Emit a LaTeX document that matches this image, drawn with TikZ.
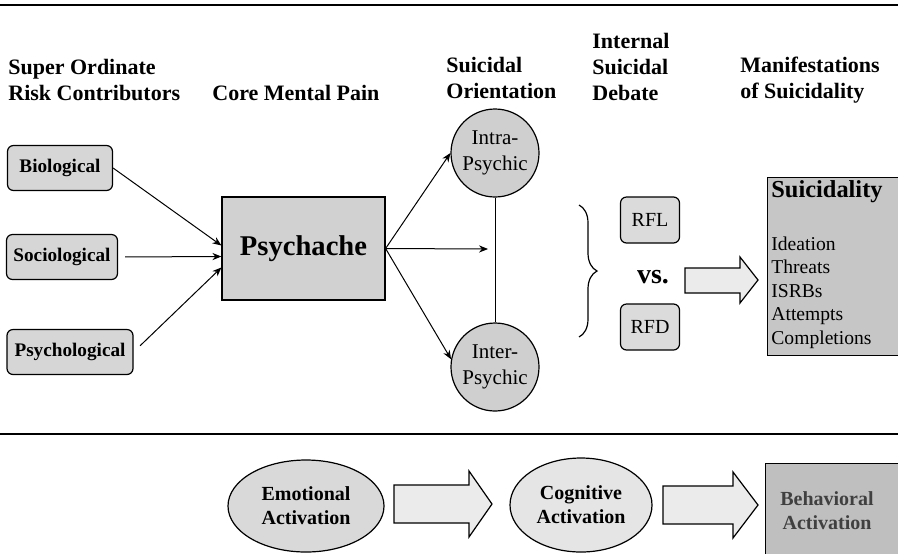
\documentclass[tikz,border=0pt]{standalone}
\usepackage{fontspec}
\setmainfont{Liberation Serif}
\usetikzlibrary{arrows.meta,decorations.pathreplacing,shapes.geometric,calc}

\begin{document}
\begin{tikzpicture}[x=0.5pt,y=-0.5pt,
  hdr/.style={font=\fontsize{11}{13}\selectfont\bfseries, align=left, anchor=west, inner sep=0pt},
  riskbox/.style={draw, line width=0.6pt, rounded corners=3pt, fill=gray!32, inner sep=0pt,
    minimum height=22.5pt, font=\fontsize{9.6}{11}\selectfont\bfseries},
  orient/.style={draw, line width=0.6pt, circle, fill=gray!38, inner sep=0pt, minimum size=44pt,
    align=center, font=\fontsize{10.5}{13}\selectfont},
  reason/.style={draw, line width=0.6pt, rounded corners=3pt, fill=gray!28, inner sep=0pt,
    minimum width=29.5pt, minimum height=23pt, font=\fontsize{10}{12}\selectfont},
  activ/.style={draw, line width=0.6pt, ellipse, inner sep=0pt, align=center,
    font=\fontsize{10}{12}\selectfont\bfseries},
  link/.style={line width=0.5pt, -{Stealth[length=4.5pt,width=3.6pt]}},
  blockarrow/.style={draw, line width=0.6pt, fill=gray!16, line join=miter},
  rule/.style={line width=0.8pt}
]
\useasboundingbox (0,0) rectangle (898,553);
\fill[white] (0,0) rectangle (898,553);
\clip (0,0) rectangle (898,553);

% horizontal rules
\coordinate (r1a) at (0,5);   \coordinate (r1b) at (898,5);
\coordinate (r2a) at (0,434); \coordinate (r2b) at (898,434);
\draw[rule] (r1a) -- (r1b);
\draw[rule] (r2a) -- (r2b);

% column headings
\node[hdr] (hrisk)   at (8,80)   {Super Ordinate\\Risk Contributors};
\node[hdr] (hpain)   at (212,93) {Core Mental Pain};
\node[hdr] (horient) at (446,78) {Suicidal\\Orientation};
\node[hdr] (hdebate) at (592,67) {Internal\\Suicidal\\Debate};
\node[hdr] (hmanif)  at (740,80) {Manifestations\\of Suicidality};

% risk contributors
\node[riskbox, minimum width=52.5pt] (bio) at (60,168) {Biological};
\node[riskbox, minimum width=55.5pt] (soc) at (62,257) {Sociological};
\node[riskbox, minimum width=63pt]   (psy) at (70,352) {Psychological};

% core mental pain
\node[draw, line width=0.6pt, fill=gray!36, minimum width=81.5pt, minimum height=51.5pt,
  inner sep=0pt, font=\fontsize{14.3}{16}\selectfont\bfseries] (pain) at (303.5,248.5) {Psychache};

\draw[link] (bio.east) -- ($(pain.west)+(0,-3)$);
\draw[link, shorten <=3.5pt] (soc.east) -- ($(pain.west)+(0,8)$);
\draw[link, shorten <=4.5pt] (psy.east) -- ($(pain.west)+(0,19)$);

% suicidal orientation
\node[orient] (intra) at (495,153) {Intra-\\Psychic};
\node[orient] (inter) at (495,367) {Inter-\\Psychic};
\coordinate (mid) at (488,249);
\draw[line width=0.5pt] (intra.south) -- (inter.north);
\draw[link] (pain.east) -- (intra.west);
\draw[link] (pain.east) -- (mid);
\draw[link] (pain.east) -- (inter.170);

% internal suicidal debate
\coordinate (brtop) at (579,205);
\coordinate (brbot) at (579,337);
\draw[line width=0.6pt, decorate, decoration={brace, amplitude=9pt}] (brtop) -- (brbot);
\node[reason] (rfl) at (650,220) {RFL};
\node[reason] (rfd) at (650,327) {RFD};
\node[font=\fontsize{14}{16}\selectfont\bfseries, inner sep=0pt] (vs) at (653,277) {vs.};

% manifestations of suicidality
\node[draw, line width=0.6pt, fill=gray!45, anchor=north west, minimum width=70pt,
  minimum height=89pt, inner sep=0pt] (suic) at (767,177) {};
\node[anchor=west, inner sep=0pt, font=\fontsize{12.2}{14}\selectfont\bfseries] (suictitle) at (771,192) {Suicidality};
\node[anchor=north west, inner sep=0pt, align=left, font=\fontsize{9.8}{11.8}\selectfont] (suiclist) at (771,236)
  {Ideation\\Threats\\ISRBs\\Attempts\\Completions};

\draw[blockarrow] (685,268) -- (740,268) -- (740,257) -- (758,280) -- (740,303) -- (740,293) -- (685,293) -- cycle;

% activation sequence
\node[activ, fill=gray!30, minimum width=78pt, minimum height=46pt] (emo) at (306,506) {Emotional\\Activation};
\node[activ, fill=gray!20, minimum width=71pt, minimum height=47pt] (cog) at (581,505) {Cognitive\\Activation};
\node[draw, line width=0.6pt, fill=gray!50, anchor=north west, minimum width=70pt, minimum height=50pt,
  inner sep=0pt] (beh) at (765,463) {};
\node[inner sep=0pt, align=center, text=black!75, font=\fontsize{10}{12}\selectfont\bfseries] (behtext) at (827,511)
  {Behavioral\\Activation};

\draw[blockarrow] (394,485) -- (469,485) -- (469,471) -- (492,504) -- (469,537) -- (469,523) -- (394,523) -- cycle;
\draw[blockarrow] (663,486) -- (733,486) -- (733,472) -- (758,505) -- (733,538) -- (733,524) -- (663,524) -- cycle;

\end{tikzpicture}
\end{document}
